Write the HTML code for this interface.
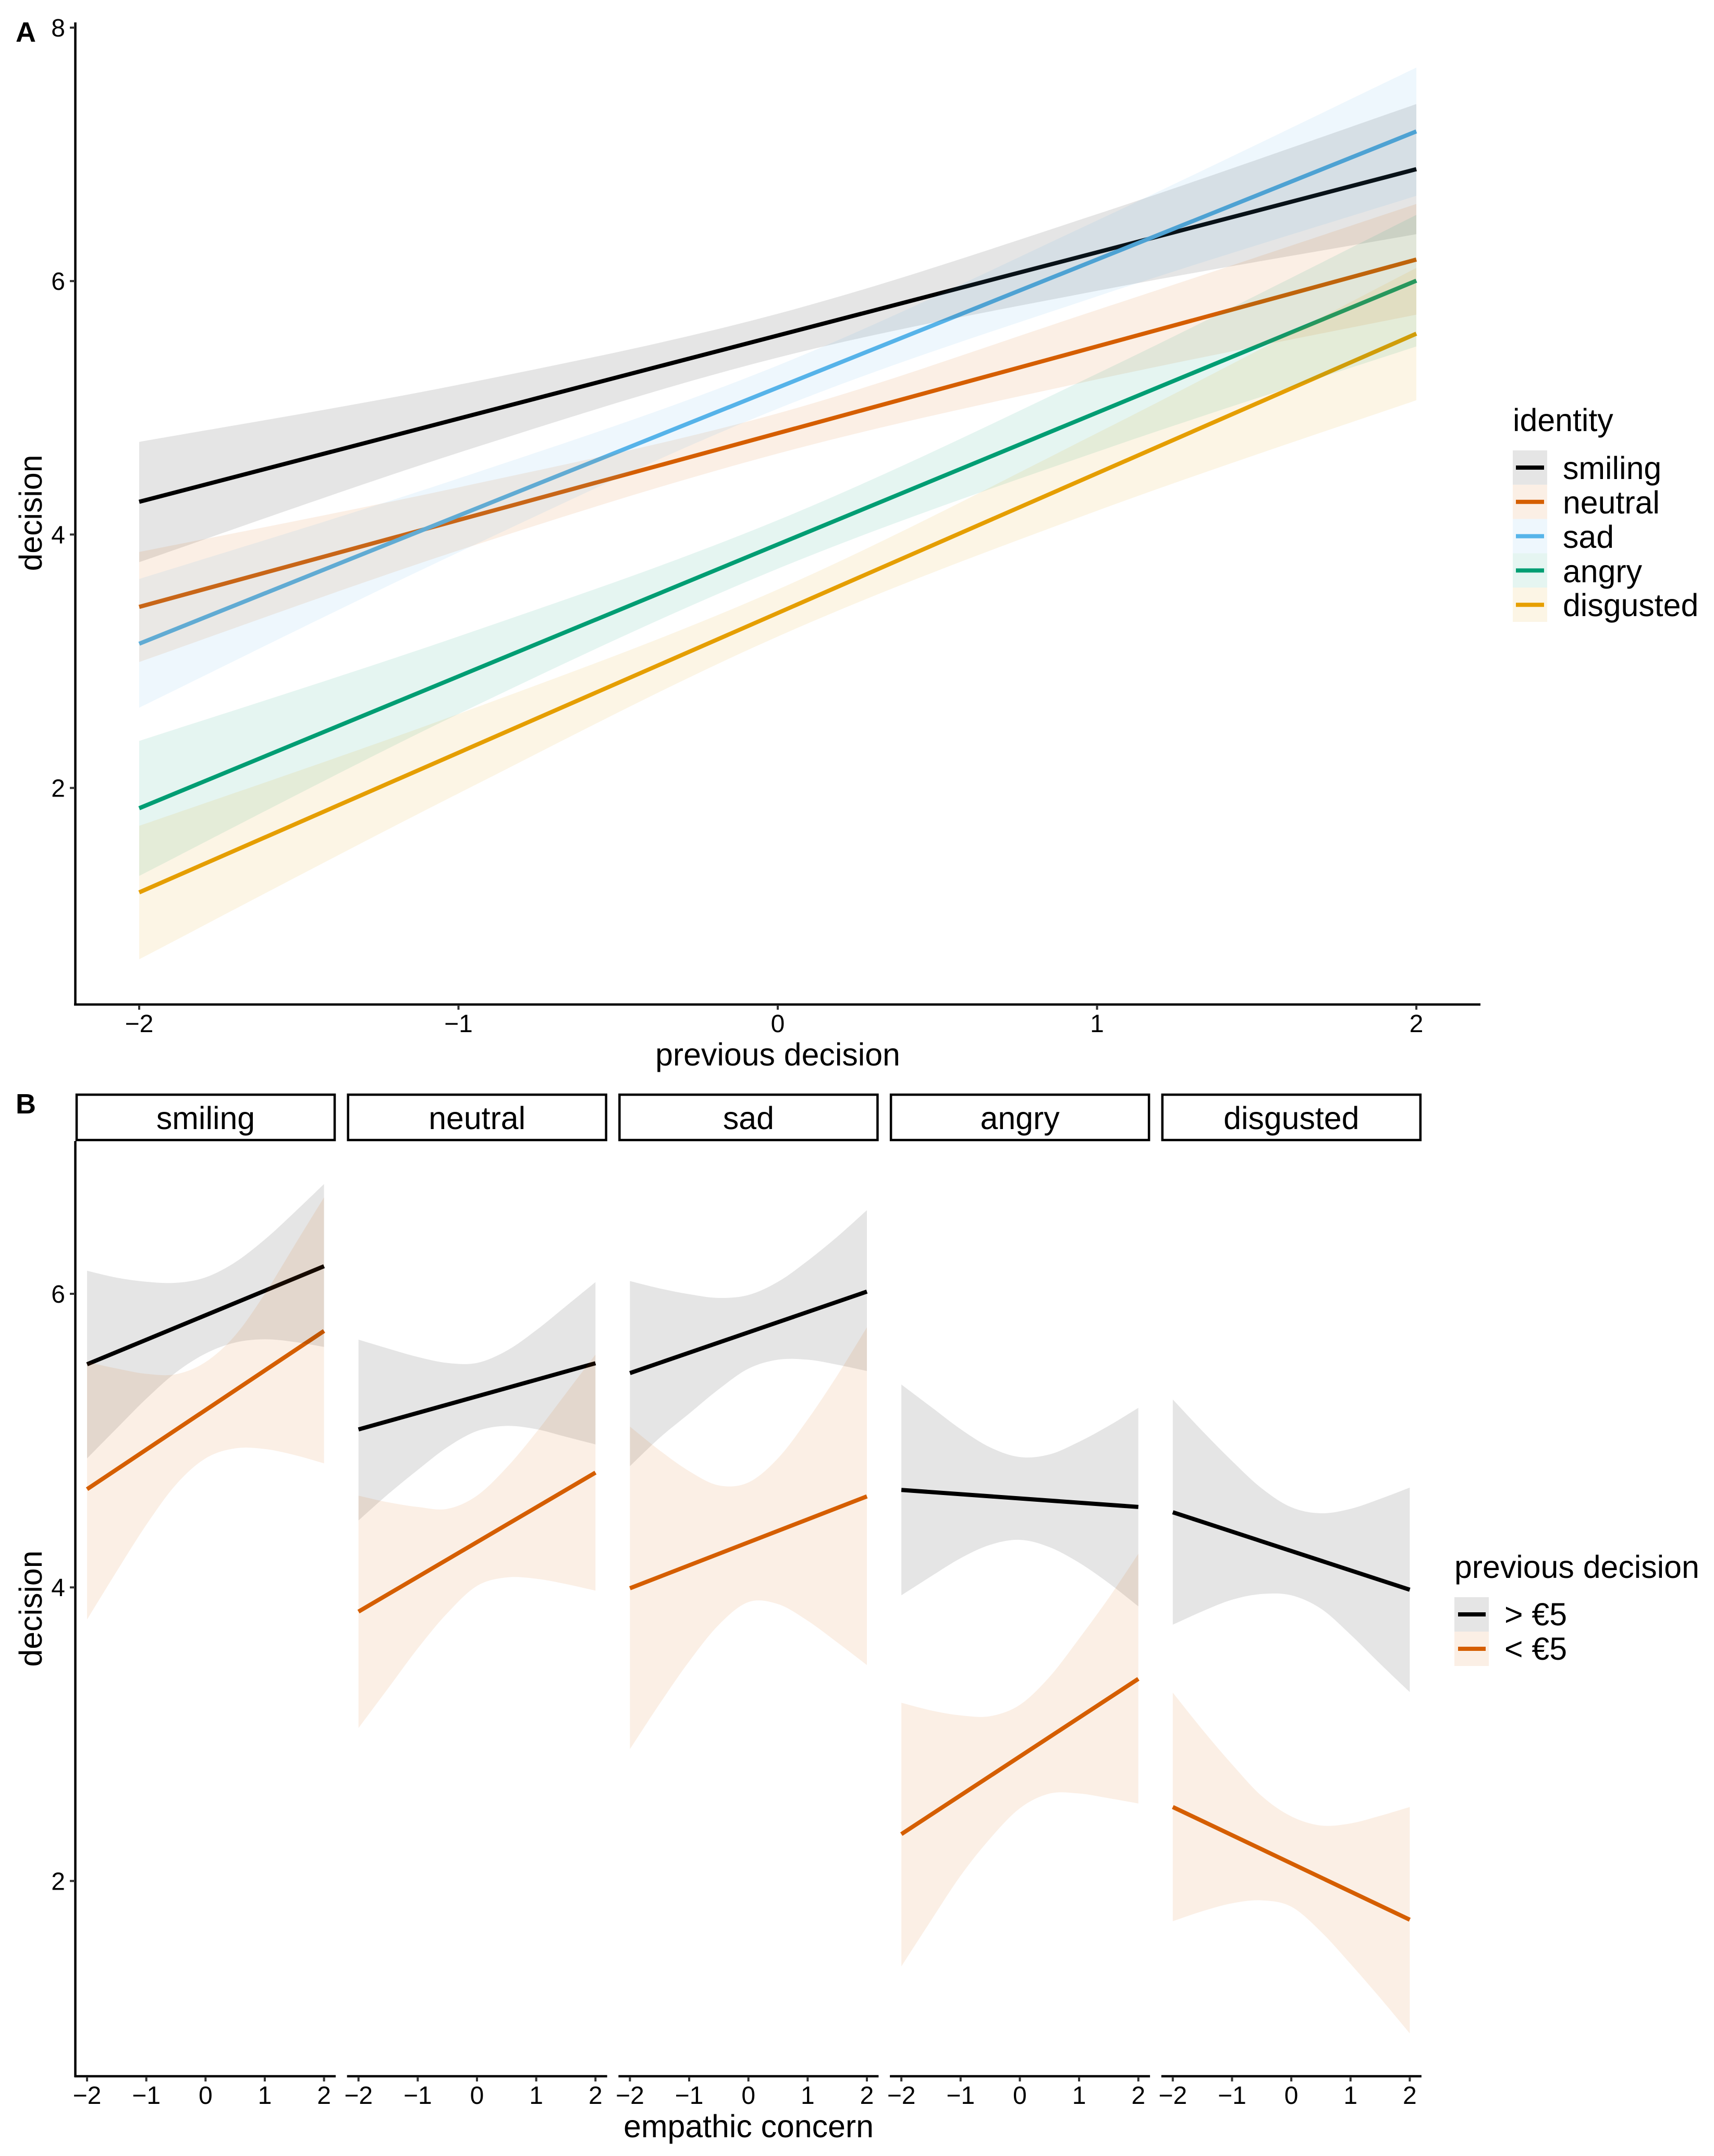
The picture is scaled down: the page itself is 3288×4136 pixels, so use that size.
<!DOCTYPE html>
<html lang="en">
<head>
<meta charset="utf-8">
<title>Decision by previous decision and empathic concern</title>
<style>
html,body{margin:0;padding:0;background:#fff;}
svg{display:block;}
text{font-family:"Liberation Sans",sans-serif;fill:#000;}
.tick-label{font-size:48px;}
.title{font-size:60.8px;}
.tag{font-size:54px;font-weight:bold;}
</style>
</head>
<body>
<svg id="figure" xmlns="http://www.w3.org/2000/svg" width="3288" height="4136" viewBox="0 0 3288 4136">
  <rect x="0" y="0" width="3288" height="4136" fill="#ffffff"/>
  <text class="tag" x="30" y="80">A</text>
  <text class="tag" x="30" y="2136">B</text>

  <g id="panelA"></g>
  <g id="panelB"></g>

  <text class="title" x="1492" y="2044" text-anchor="middle">previous decision</text>
  <text class="title" transform="translate(80,984) rotate(-90)" text-anchor="middle">decision</text>
  <text class="title" x="1436" y="4100" text-anchor="middle">empathic concern</text>
  <text class="title" transform="translate(80,3086) rotate(-90)" text-anchor="middle">decision</text>

  <g>
    <text class="title" x="2902" y="827">identity</text>
    <g>
      <rect x="2902" y="864" width="66" height="65.8" fill="#000000" fill-opacity="0.1"/>
      <line x1="2908" x2="2962" y1="897" y2="897" stroke="#000000" stroke-width="8"/>
      <text class="title" x="2998" y="919">smiling</text>
    </g>
    <g>
      <rect x="2902" y="929.8" width="66" height="65.8" fill="#D55E00" fill-opacity="0.1"/>
      <line x1="2908" x2="2962" y1="962.8" y2="962.8" stroke="#D55E00" stroke-width="8"/>
      <text class="title" x="2998" y="985">neutral</text>
    </g>
    <g>
      <rect x="2902" y="995.6" width="66" height="65.8" fill="#56B4E9" fill-opacity="0.1"/>
      <line x1="2908" x2="2962" y1="1028.6" y2="1028.6" stroke="#56B4E9" stroke-width="8"/>
      <text class="title" x="2998" y="1051">sad</text>
    </g>
    <g>
      <rect x="2902" y="1061.4" width="66" height="65.8" fill="#009E73" fill-opacity="0.1"/>
      <line x1="2908" x2="2962" y1="1094.4" y2="1094.4" stroke="#009E73" stroke-width="8"/>
      <text class="title" x="2998" y="1117">angry</text>
    </g>
    <g>
      <rect x="2902" y="1127.2" width="66" height="65.8" fill="#E69F00" fill-opacity="0.1"/>
      <line x1="2908" x2="2962" y1="1160.2" y2="1160.2" stroke="#E69F00" stroke-width="8"/>
      <text class="title" x="2998" y="1182">disgusted</text>
    </g>
  </g>

  <g>
    <text class="title" x="2790" y="3027">previous decision</text>
    <g>
      <rect x="2790" y="3064" width="66" height="66" fill="#000000" fill-opacity="0.1"/>
      <line x1="2797" x2="2850" y1="3097" y2="3097" stroke="#000000" stroke-width="8"/>
      <text class="title" x="2886" y="3118">&gt; €5</text>
    </g>
    <g>
      <rect x="2790" y="3130" width="66" height="66" fill="#D55E00" fill-opacity="0.1"/>
      <line x1="2797" x2="2850" y1="3163" y2="3163" stroke="#D55E00" stroke-width="8"/>
      <text class="title" x="2886" y="3184">&lt; €5</text>
    </g>
  </g>

  <g>
    <g>
      <rect x="147" y="2100" width="495" height="87" fill="#fff" stroke="#000" stroke-width="4.5"/>
      <text class="title" x="394.5" y="2166" text-anchor="middle">smiling</text>
    </g>
    <g>
      <rect x="667.7" y="2100" width="495" height="87" fill="#fff" stroke="#000" stroke-width="4.5"/>
      <text class="title" x="915.2" y="2166" text-anchor="middle">neutral</text>
    </g>
    <g>
      <rect x="1188.4" y="2100" width="495" height="87" fill="#fff" stroke="#000" stroke-width="4.5"/>
      <text class="title" x="1435.9" y="2166" text-anchor="middle">sad</text>
    </g>
    <g>
      <rect x="1709.1" y="2100" width="495" height="87" fill="#fff" stroke="#000" stroke-width="4.5"/>
      <text class="title" x="1956.6" y="2166" text-anchor="middle">angry</text>
    </g>
    <g>
      <rect x="2229.8" y="2100" width="495" height="87" fill="#fff" stroke="#000" stroke-width="4.5"/>
      <text class="title" x="2477.3" y="2166" text-anchor="middle">disgusted</text>
    </g>
  </g>
</svg>

<script>
/* ---------- Panel A data ---------- */
const previousDecisionTicks = [-2, -1, 0, 1, 2];
const decisionTicksA = [2, 4, 6, 8];
const lineEndsX = [-2, 2];

const smilingLine = [4.258, 6.883];
const smilingUpper = [4.731, 5.182, 5.742, 6.528, 7.397];
const smilingLower = [3.782, 4.645, 5.396, 5.923, 6.370];

const neutralLine = [3.429, 6.170];
const neutralUpper = [3.862, 4.372, 4.956, 5.772, 6.609];
const neutralLower = [2.994, 3.874, 4.639, 5.224, 5.735];

const sadLine = [3.138, 7.181];
const sadUpper = [3.649, 4.442, 5.334, 6.478, 7.685];
const sadLower = [2.633, 3.859, 4.993, 5.879, 6.673];

const angryLine = [1.840, 6.003];
const angryUpper = [2.371, 3.196, 4.113, 5.269, 6.522];
const angryLower = [1.306, 2.584, 3.730, 4.653, 5.484];

const disgustedLine = [1.176, 5.585];
const disgustedUpper = [1.701, 2.584, 3.566, 4.800, 6.104];
const disgustedLower = [0.648, 1.957, 3.195, 4.187, 5.060];

/* ---------- Panel B data ---------- */
const empathicTicks = [-2, -1, 0, 1, 2];
const empathicGrid = [-2, -1.5, -1, -0.5, 0, 0.5, 1, 1.5, 2];
const decisionTicksB = [2, 4, 6];

const smilingAboveLine = [5.520, 6.188];
const smilingAboveUpper = [6.157, 6.110, 6.082, 6.075, 6.112, 6.215, 6.370, 6.555, 6.748];
const smilingAboveLower = [4.879, 5.083, 5.285, 5.464, 5.593, 5.668, 5.690, 5.672, 5.638];
const smilingBelowLine = [4.669, 5.747];
const smilingBelowUpper = [5.536, 5.491, 5.455, 5.452, 5.535, 5.717, 6.000, 6.329, 6.657];
const smilingBelowLower = [3.781, 4.109, 4.426, 4.700, 4.879, 4.947, 4.943, 4.902, 4.845];

const neutralAboveLine = [5.076, 5.527];
const neutralAboveUpper = [5.688, 5.627, 5.570, 5.529, 5.529, 5.612, 5.752, 5.915, 6.080];
const neutralAboveLower = [4.456, 4.635, 4.800, 4.955, 5.065, 5.100, 5.078, 5.026, 4.974];
const neutralBelowLine = [3.835, 4.782];
const neutralBelowUpper = [4.625, 4.580, 4.548, 4.535, 4.625, 4.816, 5.056, 5.321, 5.586];
const neutralBelowLower = [3.042, 3.312, 3.584, 3.825, 4.010, 4.068, 4.059, 4.023, 3.978];

const sadAboveLine = [5.460, 6.015];
const sadAboveUpper = [6.087, 6.037, 5.997, 5.972, 5.992, 6.082, 6.225, 6.389, 6.570];
const sadAboveLower = [4.826, 5.018, 5.184, 5.350, 5.490, 5.551, 5.551, 5.517, 5.474];
const sadBelowLine = [3.994, 4.620];
const sadBelowUpper = [5.095, 4.934, 4.792, 4.695, 4.715, 4.880, 5.143, 5.444, 5.772];
const sadBelowLower = [2.898, 3.206, 3.496, 3.745, 3.900, 3.886, 3.773, 3.625, 3.471];

const angryAboveLine = [4.664, 4.548];
const angryAboveUpper = [5.382, 5.230, 5.078, 4.954, 4.888, 4.906, 4.992, 5.101, 5.223];
const angryAboveLower = [3.946, 4.075, 4.199, 4.290, 4.324, 4.274, 4.168, 4.029, 3.871];
const angryBelowLine = [2.319, 3.377];
const angryBelowUpper = [3.214, 3.162, 3.128, 3.123, 3.200, 3.390, 3.651, 3.928, 4.229];
const angryBelowLower = [1.418, 1.730, 2.036, 2.290, 2.495, 2.595, 2.596, 2.564, 2.528];

const disgustedAboveLine = [4.512, 3.984];
const disgustedAboveUpper = [5.280, 5.065, 4.861, 4.675, 4.546, 4.505, 4.535, 4.603, 4.680];
const disgustedAboveLower = [3.746, 3.837, 3.916, 3.955, 3.946, 3.855, 3.678, 3.479, 3.287];
const disgustedBelowLine = [2.504, 1.736];
const disgustedBelowUpper = [3.283, 3.031, 2.794, 2.579, 2.440, 2.378, 2.392, 2.444, 2.504];
const disgustedBelowLower = [1.726, 1.794, 1.848, 1.868, 1.825, 1.655, 1.435, 1.203, 0.962];

/* ---------- helpers ---------- */
const SVG_NS = 'http://www.w3.org/2000/svg';
function make(parent, tag, attrs) {
  const node = document.createElementNS(SVG_NS, tag);
  for (const key in attrs) node.setAttribute(key, attrs[key]);
  parent.appendChild(node);
  return node;
}
function tickText(v) { return String(v).replace('-', '\u2212'); }

function smoothSegments(pts) {
  let d = '';
  for (let i = 0; i < pts.length - 1; i++) {
    const p0 = pts[Math.max(i - 1, 0)];
    const p1 = pts[i];
    const p2 = pts[i + 1];
    const p3 = pts[Math.min(i + 2, pts.length - 1)];
    const c1x = p1[0] + (p2[0] - p0[0]) / 6;
    const c1y = p1[1] + (p2[1] - p0[1]) / 6;
    const c2x = p2[0] - (p3[0] - p1[0]) / 6;
    const c2y = p2[1] - (p3[1] - p1[1]) / 6;
    d += 'C' + c1x.toFixed(1) + ' ' + c1y.toFixed(1) + ' ' + c2x.toFixed(1) + ' ' + c2y.toFixed(1) + ' ' + p2[0].toFixed(1) + ' ' + p2[1].toFixed(1);
  }
  return d;
}
function ribbonPath(xs, upper, lower, xScale, yScale) {
  const top = xs.map(function (x, i) { return [xScale(x), yScale(upper[i])]; });
  const bottom = xs.map(function (x, i) { return [xScale(x), yScale(lower[i])]; }).reverse();
  return 'M' + top[0][0].toFixed(1) + ' ' + top[0][1].toFixed(1) + smoothSegments(top) +
    'L' + bottom[0][0].toFixed(1) + ' ' + bottom[0][1].toFixed(1) + smoothSegments(bottom) + 'Z';
}

/* ---------- Panel A ---------- */
const panelA = document.getElementById('panelA');
function xA(v) { return 267 + (v + 2) * 612.5; }
function yA(v) { return 53 + (8 - v) * 243.1; }

const panelASeries = [
  ['smiling', '#000000', smilingLine, smilingUpper, smilingLower],
  ['neutral', '#D55E00', neutralLine, neutralUpper, neutralLower],
  ['sad', '#56B4E9', sadLine, sadUpper, sadLower],
  ['angry', '#009E73', angryLine, angryUpper, angryLower],
  ['disgusted', '#E69F00', disgustedLine, disgustedUpper, disgustedLower]
];

panelASeries.forEach(function (s) {
  const ln = make(panelA, 'line', {
    x1: xA(lineEndsX[0]), y1: yA(s[2][0]), x2: xA(lineEndsX[1]), y2: yA(s[2][1]),
    stroke: s[1], 'stroke-width': 8
  });
  
  
});
panelASeries.forEach(function (s) {
  const band = make(panelA, 'path', {
    d: ribbonPath(previousDecisionTicks, s[3], s[4], xA, yA),
    fill: s[1], 'fill-opacity': 0.1
  });
  
  
});

const axisAY = make(panelA, 'line', { x1: 144.5, y1: 43, x2: 144.5, y2: 1929, stroke: '#000', 'stroke-width': 4.5 });


const axisAX = make(panelA, 'line', { x1: 142, y1: 1927, x2: 2840, y2: 1927, stroke: '#000', 'stroke-width': 4.5 });



previousDecisionTicks.forEach(function (v) {
  const t = make(panelA, 'line', { x1: xA(v), y1: 1928, x2: xA(v), y2: 1937, stroke: '#333', 'stroke-width': 4 });
  
  
  const label = make(panelA, 'text', { x: xA(v), y: 1980, 'text-anchor': 'middle', 'class': 'tick-label' });
  label.textContent = tickText(v);
  
  
});
decisionTicksA.forEach(function (v) {
  const t = make(panelA, 'line', { x1: 134, y1: yA(v), x2: 144, y2: yA(v), stroke: '#333', 'stroke-width': 4 });
  
  
  const label = make(panelA, 'text', { x: 125, y: yA(v) + 17, 'text-anchor': 'end', 'class': 'tick-label' });
  label.textContent = tickText(v);
  
  
});

/* ---------- Panel B ---------- */
const panelB = document.getElementById('panelB');
function xB(facet, v) { return 167 + facet * 520.7 + (v + 2) * 113.65; }
function yB(v) { return 2482 + (6 - v) * 281.6; }

const facetNames = ['smiling', 'neutral', 'sad', 'angry', 'disgusted'];
const facetAbove = [
  [smilingAboveLine, smilingAboveUpper, smilingAboveLower],
  [neutralAboveLine, neutralAboveUpper, neutralAboveLower],
  [sadAboveLine, sadAboveUpper, sadAboveLower],
  [angryAboveLine, angryAboveUpper, angryAboveLower],
  [disgustedAboveLine, disgustedAboveUpper, disgustedAboveLower]
];
const facetBelow = [
  [smilingBelowLine, smilingBelowUpper, smilingBelowLower],
  [neutralBelowLine, neutralBelowUpper, neutralBelowLower],
  [sadBelowLine, sadBelowUpper, sadBelowLower],
  [angryBelowLine, angryBelowUpper, angryBelowLower],
  [disgustedBelowLine, disgustedBelowUpper, disgustedBelowLower]
];

facetNames.forEach(function (name, f) {
  const xs = function (v) { return xB(f, v); };
  const lineAbove = make(panelB, 'line', {
    x1: xs(lineEndsX[0]), y1: yB(facetAbove[f][0][0]), x2: xs(lineEndsX[1]), y2: yB(facetAbove[f][0][1]),
    stroke: '#000000', 'stroke-width': 8
  });
  
  
  const lineBelow = make(panelB, 'line', {
    x1: xs(lineEndsX[0]), y1: yB(facetBelow[f][0][0]), x2: xs(lineEndsX[1]), y2: yB(facetBelow[f][0][1]),
    stroke: '#D55E00', 'stroke-width': 8
  });
  
  

  const bandAbove = make(panelB, 'path', {
    d: ribbonPath(empathicGrid, facetAbove[f][1], facetAbove[f][2], xs, yB),
    fill: '#000000', 'fill-opacity': 0.1
  });
  
  
  const bandBelow = make(panelB, 'path', {
    d: ribbonPath(empathicGrid, facetBelow[f][1], facetBelow[f][2], xs, yB),
    fill: '#D55E00', 'fill-opacity': 0.1
  });
  
  

  const left = 145 + f * 520.7;
  const axis = make(panelB, 'line', { x1: f === 0 ? left - 2 : left, y1: 3983, x2: left + 499, y2: 3983, stroke: '#000', 'stroke-width': 4.5 });
  
  

  empathicTicks.forEach(function (v) {
    const t = make(panelB, 'line', { x1: xs(v), y1: 3984, x2: xs(v), y2: 3993, stroke: '#333', 'stroke-width': 4 });
    
    
    const label = make(panelB, 'text', { x: xs(v), y: 4036, 'text-anchor': 'middle', 'class': 'tick-label' });
    label.textContent = tickText(v);
    
    
  });
});

const axisBY = make(panelB, 'line', { x1: 144.5, y1: 2189, x2: 144.5, y2: 3985, stroke: '#000', 'stroke-width': 4.5 });



decisionTicksB.forEach(function (v) {
  const t = make(panelB, 'line', { x1: 134, y1: yB(v), x2: 144, y2: yB(v), stroke: '#333', 'stroke-width': 4 });
  
  
  const label = make(panelB, 'text', { x: 125, y: yB(v) + 17, 'text-anchor': 'end', 'class': 'tick-label' });
  label.textContent = tickText(v);
  
  
});
</script>
</body>
</html>
